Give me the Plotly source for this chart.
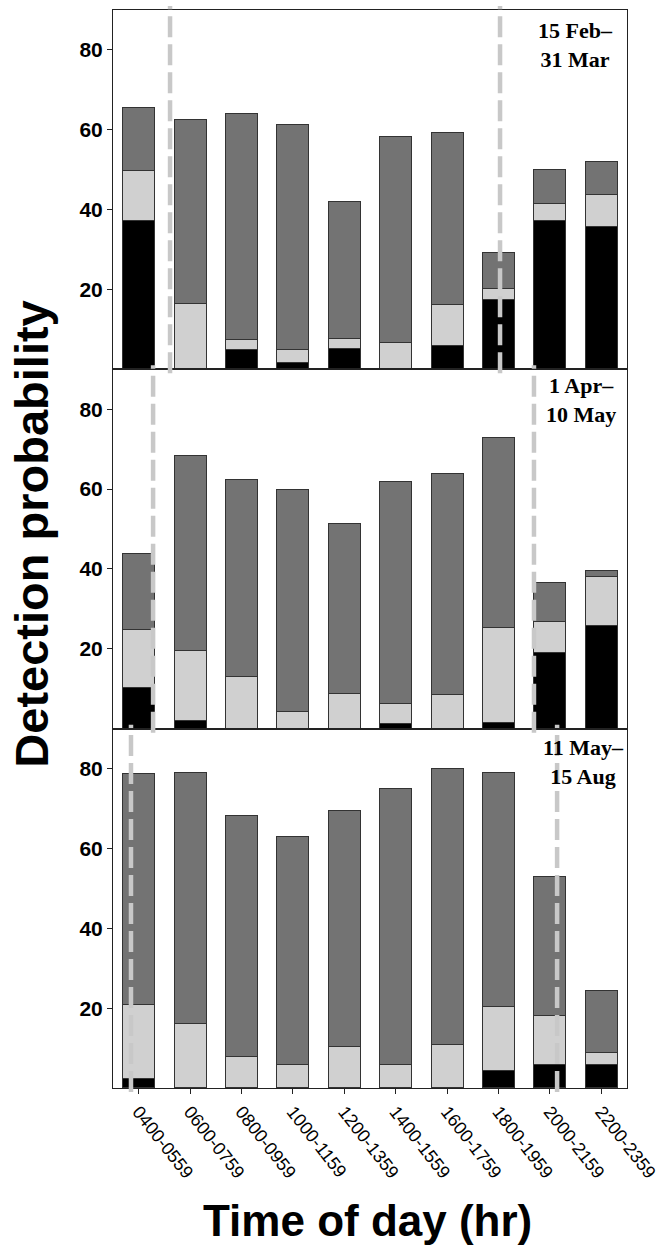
import plotly.graph_objects as go
from plotly.subplots import make_subplots

categories = ["0400-0559", "0600-0759", "0800-0959", "1000-1159", "1200-1359",
              "1400-1559", "1600-1759", "1800-1959", "2000-2159", "2200-2359"]

# Panel 1: 15 Feb - 31 Mar
black1 = [37.4, 0, 5.0, 1.7, 5.2, 0, 6.0, 17.5, 37.4, 35.8]
light1 = [12.4, 16.5, 2.5, 3.3, 2.5, 6.8, 10.2, 2.7, 4.1, 8.1]
dark1 = [15.9, 46.0, 56.6, 56.3, 34.4, 51.5, 43.1, 9.1, 8.5, 8.1]

# Panel 2: 1 Apr - 10 May
black2 = [10.3, 2.0, 0, 0, 0, 1.2, 0, 1.5, 19.2, 25.8]
light2 = [14.5, 17.5, 13.0, 4.3, 8.9, 5.1, 8.6, 23.9, 7.6, 12.2]
dark2 = [19.0, 49.0, 49.3, 55.7, 42.5, 55.5, 55.2, 47.5, 9.7, 1.6]

# Panel 3: 11 May - 15 Aug
black3 = [2.4, 0, 0, 0, 0, 0, 0, 4.3, 5.9, 5.9]
light3 = [18.4, 16.1, 8.0, 6.0, 10.5, 6.0, 10.8, 16.2, 12.2, 3.0]
dark3 = [58.0, 62.9, 60.3, 57.1, 59.0, 69.1, 69.2, 58.5, 34.9, 15.4]

panel_labels = ["15 Feb–<br>31 Mar", "1 Apr–<br>10 May", "11 May–<br>15 Aug"]
# sunrise / sunset positions (in category-index units)
sun_lines = [(0.61, 7.03), (0.28, 7.69), (-0.15, 8.14)]

panels = [(black1, light1, dark1), (black2, light2, dark2), (black3, light3, dark3)]
colors = ["#000000", "#d0d0d0", "#737373"]

fig = make_subplots(rows=3, cols=1, shared_xaxes=True, vertical_spacing=0)

for r, segs in enumerate(panels, start=1):
    for vals, col in zip(segs, colors):
        fig.add_trace(go.Bar(x=categories, y=vals, marker=dict(color=col, line=dict(color="#333333", width=1)),
                             width=0.62, showlegend=False), row=r, col=1)

fig.update_layout(barmode="stack", width=662, height=1245,
                  margin=dict(l=113, r=35, t=10, b=157),
                  plot_bgcolor="white", paper_bgcolor="white",
                  font=dict(family="Liberation Sans, Arial, sans-serif", color="black"))

for r in range(1, 4):
    fig.update_xaxes(range=[-0.5, 9.5], showline=True, mirror=True, linecolor="#222222", linewidth=1,
                     showgrid=False, zeroline=False, automargin=False, row=r, col=1)
    fig.update_yaxes(range=[0, 90], tickvals=[20, 40, 60, 80], ticks="outside", ticklen=5,
                     tickcolor="#222222", showline=True, mirror=True, linecolor="#222222", linewidth=1,
                     showgrid=False, zeroline=False, automargin=False,
                     tickfont=dict(size=21, family="Liberation Sans, Arial, sans-serif", weight="bold"),
                     row=r, col=1)

fig.update_xaxes(ticks="outside", ticklen=5, tickcolor="#222222", tickangle=52,
                 tickfont=dict(size=18, family="Liberation Sans, Arial, sans-serif"), row=3, col=1)

# dashed sunrise/sunset lines
ext = 4 / 1078
domains = [(2/3, 1.0), (1/3, 2/3), (0.0, 1/3)]
for (lo, hi), xs in zip(domains, sun_lines):
    for xv in xs:
        fig.add_shape(type="line", xref="x", yref="paper", x0=xv, x1=xv, y0=lo - ext, y1=hi + ext,
                      line=dict(color="#c8c8c8", width=4.5, dash="21px,7px"), layer="above")

# panel labels
label_pos = [(0.899, 0.9945), (0.910, 0.6650), (0.916, 0.3290)]
for txt, (xp, yp) in zip(panel_labels, label_pos):
    fig.add_annotation(text=txt, xref="paper", yref="paper", x=xp, y=yp, xanchor="center", yanchor="top",
                       showarrow=False, align="center",
                       font=dict(family="Liberation Serif, Times New Roman, serif", size=22, weight="bold",
                                 color="black"))

fig.add_annotation(text="Detection probability", xref="paper", yref="paper", x=-0.158, y=0.514,
                   xanchor="center", yanchor="middle", textangle=-90, showarrow=False,
                   font=dict(size=47, weight="bold", family="Liberation Sans, Arial, sans-serif"))
fig.add_annotation(text="Time of day (hr)", xref="paper", yref="paper", x=0.496, y=-0.123,
                   xanchor="center", yanchor="middle", showarrow=False,
                   font=dict(size=44, weight="bold", family="Liberation Sans, Arial, sans-serif"))

fig.write_html("out.html")
